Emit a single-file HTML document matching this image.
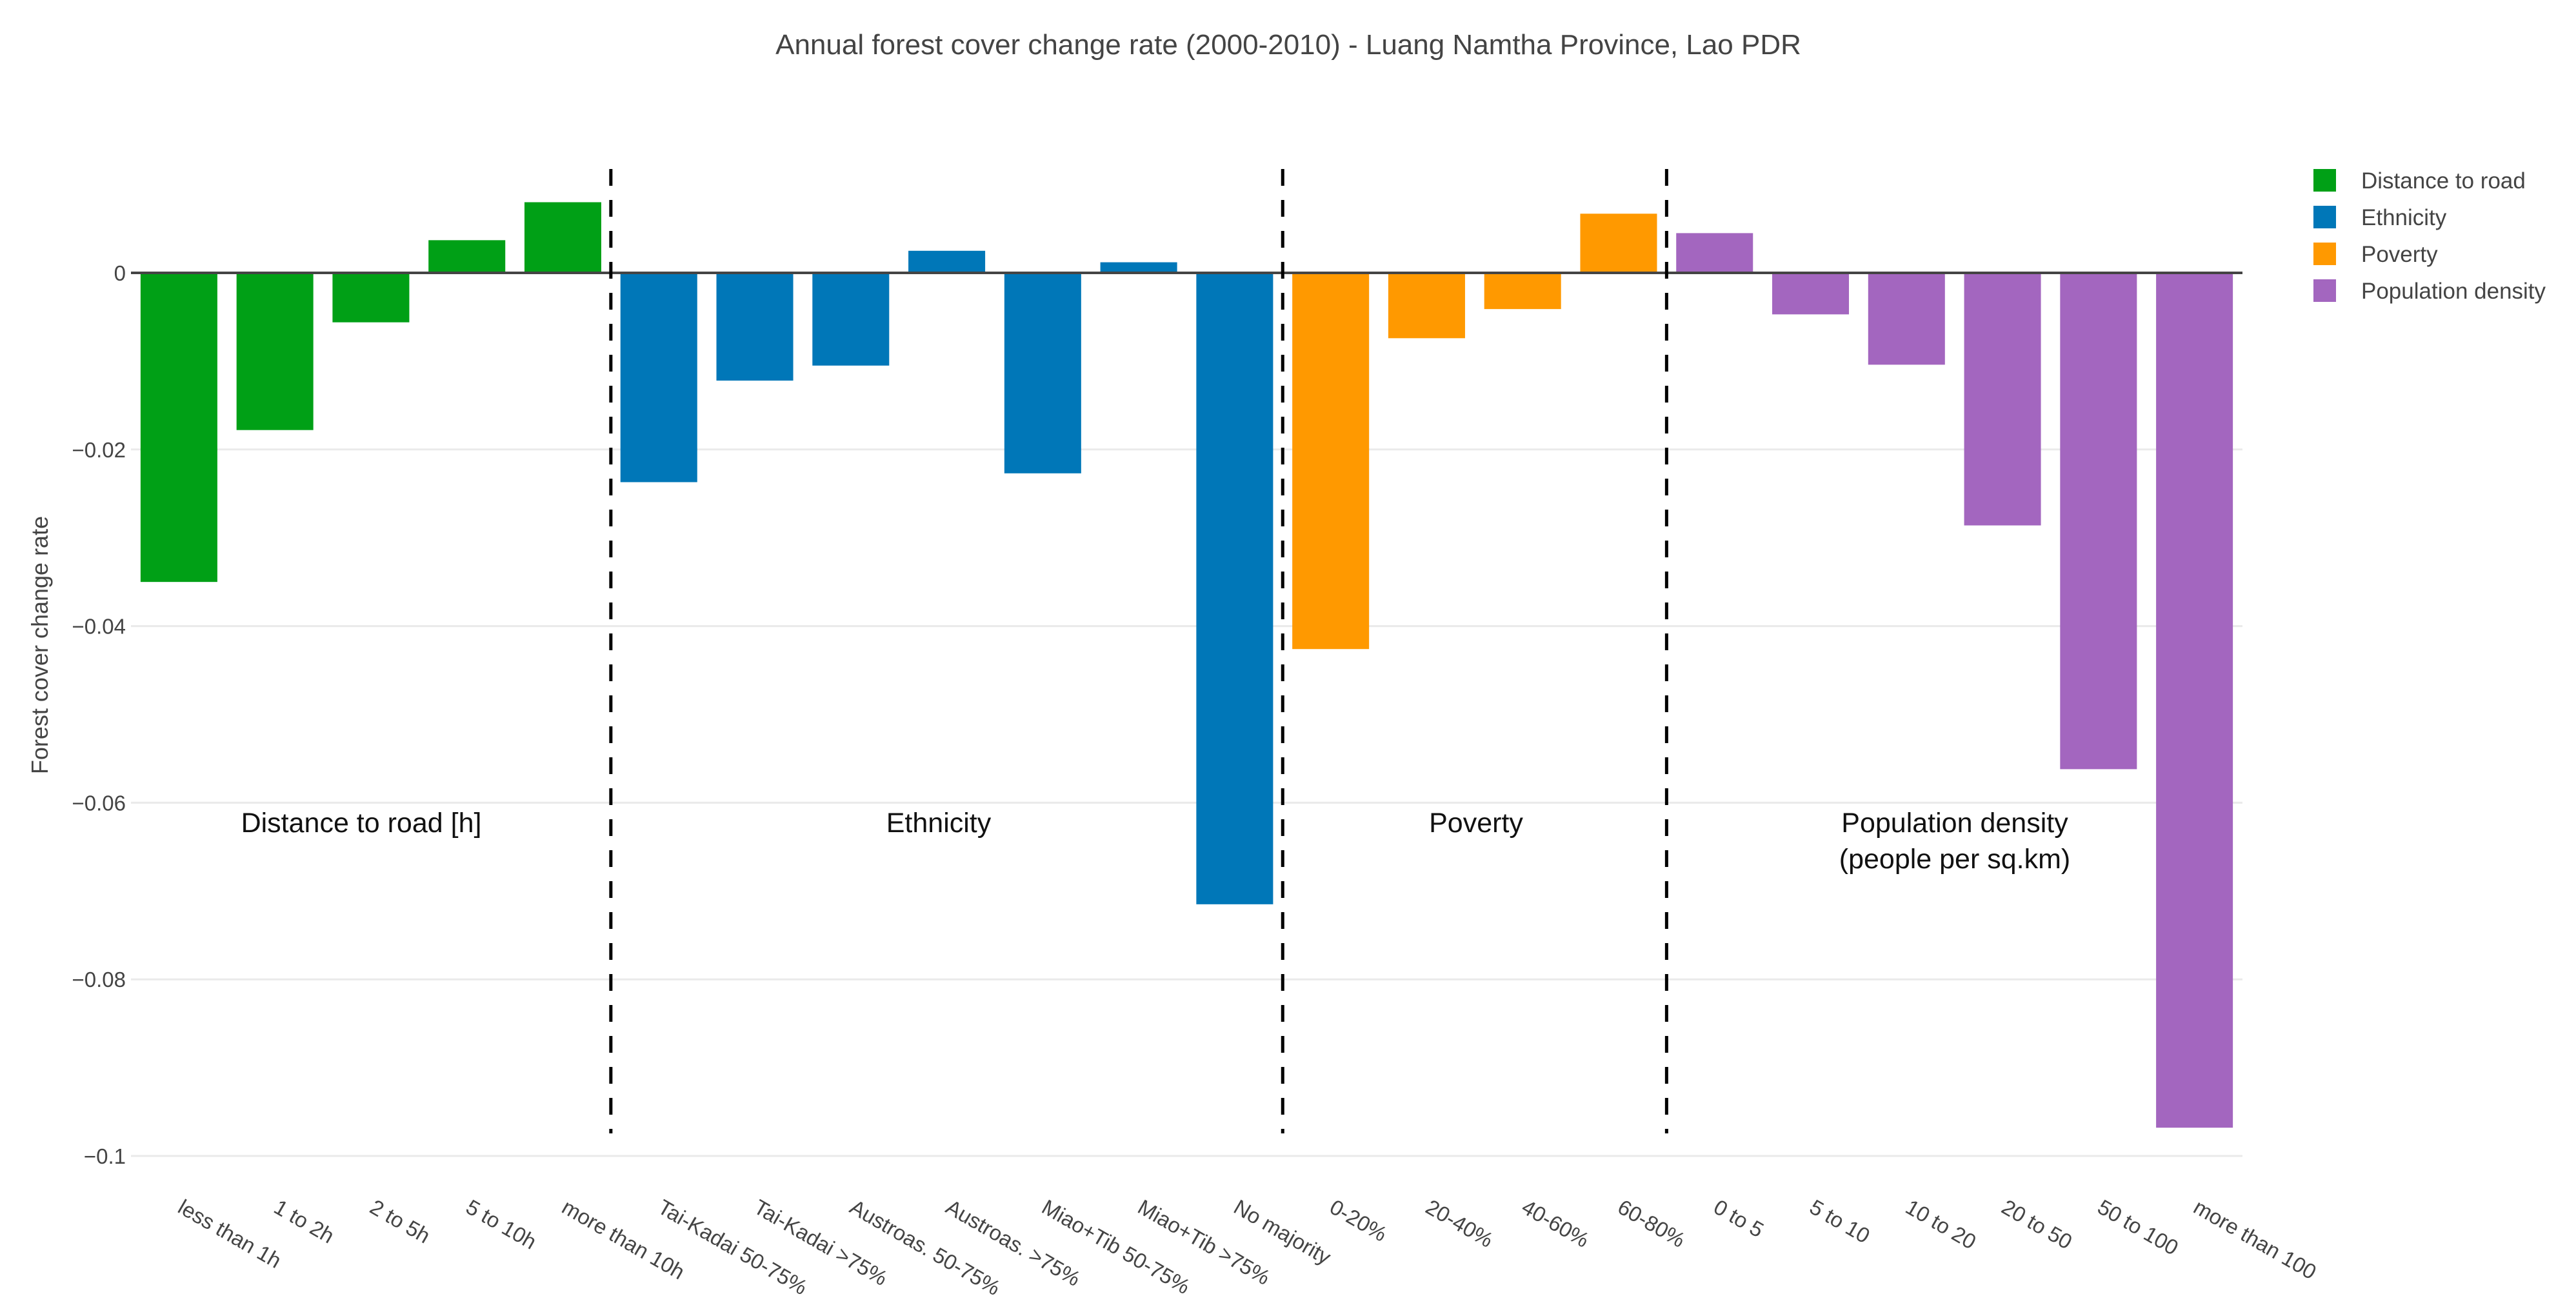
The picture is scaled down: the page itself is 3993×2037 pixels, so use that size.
<!DOCTYPE html>
<html><head><meta charset="utf-8"><style>
html,body{margin:0;padding:0;background:#fff;}
svg{display:block;font-family:"Liberation Sans",sans-serif;}
</style></head><body>
<svg id="chart" width="3993" height="2037" viewBox="0 0 3993 2037" xmlns="http://www.w3.org/2000/svg">
<rect width="3993" height="2037" fill="#fff"/>
<text x="1997" y="84" text-anchor="middle" font-size="44" fill="#444">Annual forest cover change rate (2000-2010) - Luang Namtha Province, Lao PDR</text>
<text transform="translate(74,1000) rotate(-90)" text-anchor="middle" font-size="36" fill="#444">Forest cover change rate</text>
<g id="grid"></g><g id="bars"></g><g id="zero"></g><g id="dividers"></g><g id="yticks"></g><g id="xticks"></g>
<g font-size="43" fill="#111" text-anchor="middle">
<text x="560" y="1290">Distance to road [h]</text>
<text x="1455" y="1290">Ethnicity</text>
<text x="2288" y="1290">Poverty</text>
<text x="3030" y="1290">Population density</text>
<text x="3030" y="1346">(people per sq.km)</text>
</g>
<g id="legend" font-size="35" fill="#444"></g>
</svg>
<script>
const categories = ["less than 1h","1 to 2h","2 to 5h","5 to 10h","more than 10h","Tai-Kadai 50-75%","Tai-Kadai >75%","Austroas. 50-75%","Austroas. >75%","Miao+Tib 50-75%","Miao+Tib >75%","No majority","0-20%","20-40%","40-60%","60-80%","0 to 5","5 to 10","10 to 20","20 to 50","50 to 100","more than 100"];
const values = [-0.035,-0.0178,-0.0056,0.0037,0.008,-0.0237,-0.0122,-0.0105,0.0025,-0.0227,0.0012,-0.0715,-0.0426,-0.0074,-0.0041,0.0067,0.0045,-0.0047,-0.0104,-0.0286,-0.0562,-0.0968];
const groups = [0,0,0,0,0,1,1,1,1,1,1,1,2,2,2,2,3,3,3,3,3,3];
const seriesNames = ["Distance to road","Ethnicity","Poverty","Population density"];
const yTicks = [0,-0.02,-0.04,-0.06,-0.08,-0.1];
const yTickLabels = ["0","\u22120.02","\u22120.04","\u22120.06","\u22120.08","\u22120.1"];
const dividerAfter = [5,12,16];

const colors = ["#00a016","#0077b8","#ff9900","#a366bf"];
const NS = "http://www.w3.org/2000/svg";
const left = 203, right = 3476, zeroY = 423, pxPerUnit = 13690;
const pitch = (right-left)/categories.length;
const y = v => zeroY - v*pxPerUnit;
const xc = i => left + pitch*(i+0.5);
function mk(tag, attrs, parent){const e=document.createElementNS(NS,tag);for(const k in attrs)e.setAttribute(k,attrs[k]);parent.appendChild(e);return e;}

const grid = document.getElementById('grid'), yt = document.getElementById('yticks');
yTicks.forEach((t,i)=>{
  if(t!==0){const g=mk('line',{x1:left,x2:right,y1:y(t),y2:y(t),stroke:'#eaeaea','stroke-width':3},grid);
  
  }
  const tx=mk('text',{x:left-8,y:y(t)+12,'text-anchor':'end','font-size':33,fill:'#444'},yt);
  
  
  tx.textContent=yTickLabels[i];
});
const bars=document.getElementById('bars');
values.forEach((v,i)=>{
  const w=pitch*0.8;
  const r=mk('rect',{x:xc(i)-w/2,y:Math.min(y(v),zeroY),width:w,height:Math.abs(y(v)-zeroY),fill:colors[groups[i]]},bars);
  
  
});
const z=mk('line',{x1:left,x2:right,y1:zeroY,y2:zeroY,stroke:'#444','stroke-width':4},document.getElementById('zero'));


const dv=document.getElementById('dividers');
dividerAfter.forEach(k=>{
  const x=left+pitch*k;
  const l=mk('line',{x1:x,x2:x,y1:262,y2:1757,stroke:'#000','stroke-width':5,'stroke-dasharray':'26,22'},dv);
  
  
});
const xt=document.getElementById('xticks');
categories.forEach((c,i)=>{
  const x=xc(i)-4, yy=1878;
  const t=mk('text',{x:x,y:yy,'font-size':33,fill:'#444',transform:`rotate(30 ${x} ${yy})`},xt);
  
  
  t.textContent=c;
});
const lg=document.getElementById('legend');
seriesNames.forEach((n,i)=>{
  const yy=262+i*57;
  const s=mk('rect',{x:3586,y:yy,width:35,height:35,fill:colors[i]},lg);
  
  
  const t=mk('text',{x:3660,y:yy+30},lg);
  
  
  t.textContent=n;
});
</script>
</body></html>
